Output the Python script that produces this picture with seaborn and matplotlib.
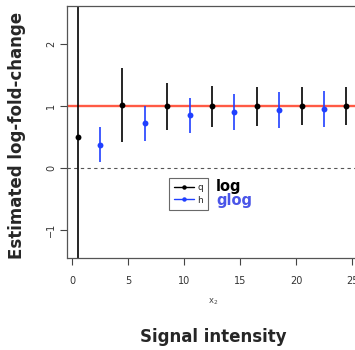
import matplotlib
matplotlib.use("Agg")
import matplotlib.pyplot as plt
import seaborn as sns
import pandas as pd
from matplotlib.lines import Line2D

# data
log_x = [0.5, 4.5, 8.5, 12.5, 16.5, 20.5, 24.5]
log_y = [0.50, 1.02, 1.00, 1.00, 1.00, 1.00, 1.00]
log_lo = [-5.0, 0.42, 0.62, 0.67, 0.68, 0.69, 0.70]
log_hi = [5.0, 1.61, 1.38, 1.33, 1.30, 1.30, 1.30]

glog_x = [2.5, 6.5, 10.5, 14.5, 18.5, 22.5]
glog_y = [0.38, 0.72, 0.85, 0.91, 0.94, 0.96]
glog_lo = [0.10, 0.43, 0.57, 0.62, 0.65, 0.67]
glog_hi = [0.67, 1.00, 1.13, 1.19, 1.22, 1.24]

xticks = [0, 5, 10, 15, 20, 25]
yticks = [-1, 0, 1, 2]

sns.set_style("white")
plt.rcParams['font.family'] = ['DejaVu Sans']

BLUE = "#2040ff"
fig = plt.figure(figsize=(3.55, 3.5), dpi=100)
ax = fig.add_axes([67/355, 1-258/350, (362-67)/355, (258-6)/350])

ax.axhline(1, color="#ff5a45", lw=1.7, zorder=1)
ax.axhline(0, color="#555555", lw=0.8, ls=(0, (3, 3)), zorder=1)

for xs, ys, lo, hi, c in [(log_x, log_y, log_lo, log_hi, "black"),
                          (glog_x, glog_y, glog_lo, glog_hi, BLUE)]:
    ax.vlines(xs, lo, hi, color=c, lw=1.2, zorder=2)
    df = pd.DataFrame({"x": xs, "y": ys})
    sns.scatterplot(data=df, x="x", y="y", color=c, s=18, edgecolor=c,
                    linewidth=0, ax=ax, zorder=3)

x0 = -0.45
ppu = (128 - 72) / 5.0
ax.set_xlim(x0, x0 + (362 - 67) / ppu)
ypu = (169 - 107) / 1.0
ax.set_ylim(-1.45, -1.45 + (258 - 6) / ypu)
ax.set_xticks(xticks)
ax.set_yticks(yticks)
ax.set_xlabel("")
ax.set_ylabel("")
ax.tick_params(axis="both", direction="out", length=5, width=0.8,
               color="#444444", labelsize=7, labelcolor="#333333", pad=3,
               bottom=True, left=True)
ax.tick_params(axis="x", pad=8)
for lab in ax.get_yticklabels():
    lab.set_rotation(90)
    lab.set_va("center")
for name, sp in ax.spines.items():
    sp.set_color("#555555")
    sp.set_linewidth(0.9)
ax.spines["bottom"].set_visible(False)
ax.plot([0, 1], [0, 0], transform=ax.transAxes, color="#555555", lw=0.9, clip_on=False)

handles = [Line2D([], [], color="black", marker="o", ms=2.2, lw=1),
           Line2D([], [], color=BLUE, marker="o", ms=2.2, lw=1)]
leg = ax.legend(handles, ["q", "h"], loc="upper left",
                bbox_to_anchor=((169-67)/295, 1-(178-6)/252),
                fontsize=6.5, handlelength=2.2, handletextpad=0.4,
                borderpad=0.55, labelspacing=0.4, fancybox=False,
                frameon=True, markerfirst=True, borderaxespad=0)
leg.get_frame().set_edgecolor("#444444")
leg.get_frame().set_linewidth(0.8)
leg.get_frame().set_boxstyle("square", pad=0)

fig.text(216/355, 1-186/350, "log", fontsize=10.5, fontweight="bold",
         color="black", va="center", ha="left")
fig.text(216/355, 1-201/350, "glog", fontsize=10.5, fontweight="bold",
         color="#4a55e8", va="center", ha="left")

fig.text(213/355, 1-302/350, "x$_2$", fontsize=6, color="#444444",
         ha="center", va="center")
fig.text(213/355, 1-337/350, "Signal intensity", fontsize=12,
         fontweight="bold", ha="center", va="center")
fig.text(17/355, 1-135/350, "Estimated log-fold-change", fontsize=12,
         fontweight="bold", rotation=90, ha="center", va="center")

fig.savefig("out.png", dpi=100)
